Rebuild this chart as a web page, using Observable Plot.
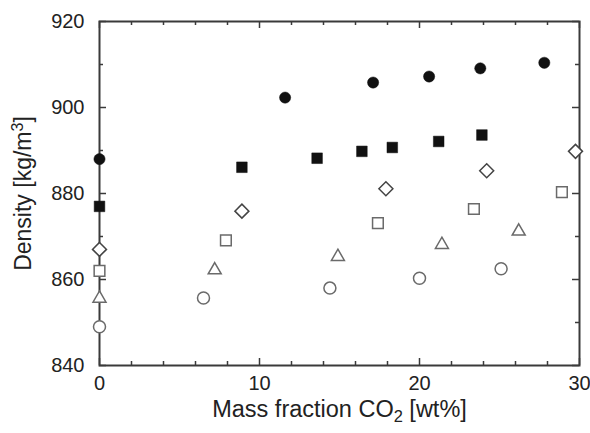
<!DOCTYPE html>
<html><head><meta charset="utf-8">
<script src="https://cdn.jsdelivr.net/npm/d3@7"></script>
<script src="https://cdn.jsdelivr.net/npm/@observablehq/plot@0.6"></script>
<style>body{margin:0;background:#fff}</style>
</head><body><div id="chart"></div>
<script>
// Data
const xFilledCircle = [0, 11.6, 17.1, 20.6, 23.8, 27.8];
const yFilledCircle = [888, 902.3, 905.8, 907.2, 909.1, 910.4];
const xFilledSquare = [0, 8.9, 13.6, 16.4, 18.3, 21.2, 23.9];
const yFilledSquare = [877, 886.1, 888.2, 889.8, 890.7, 892.1, 893.6];
const xOpenDiamond = [0, 8.9, 17.9, 24.2, 29.75];
const yOpenDiamond = [867, 875.9, 881.1, 885.3, 889.8];
const xOpenSquare = [0, 7.9, 17.4, 23.4, 28.9];
const yOpenSquare = [862, 869.1, 873.1, 876.4, 880.3];
const xOpenTriangle = [0, 7.2, 14.9, 21.4, 26.2];
const yOpenTriangle = [855.6, 862.2, 865.3, 868.1, 871.2];
const xOpenCircle = [0, 6.5, 14.4, 20.0, 25.1];
const yOpenCircle = [849, 855.7, 858, 860.3, 862.5];

const xTickLabels = [0, 10, 20, 30];
const yTickLabels = [840, 860, 880, 900, 920];
const xMinorTicks = [2, 4, 6, 8, 12, 14, 16, 18, 22, 24, 26, 28];
const yMinorTicks = [850, 870, 890, 910];
// axis titles: [before, script part, after]
const xLabelParts = ["Mass fraction CO", "2", " [wt%]"];
const yLabelParts = ["Density [kg/m", "3", "]"];
const xLabel = xLabelParts.join("");
const yLabel = yLabelParts.join("");

const pts = (xs, ys) => xs.map((x, i) => ({x, y: ys[i]}));

const W = 590, H = 433, mt = 21, mb = 68, ml = 99, mr = 11;
const ph = H - mt - mb, pw = W - ml - mr;
const majorLen = 7, minorLen = 4;
const frameColor = "#3a3a3a";
const openColor = "#6a6a6a";

const chart = Plot.plot({
  width: W, height: H,
  marginTop: mt, marginBottom: mb, marginLeft: ml, marginRight: mr,
  style: {fontFamily: "'Liberation Sans', Arial, sans-serif", fontSize: "20px", color: "#222", background: "#fff"},
  x: {domain: [0, 30]},
  y: {domain: [840, 920]},
  marks: [
    Plot.axisX(xTickLabels, {tickSize: 0, tickPadding: 3, dy: 7, label: null, fontSize: 20}),
    Plot.axisY(yTickLabels, {tickSize: 0, tickPadding: 3, dx: -12, label: null, fontSize: 20}),
    // inward ticks: bottom & top
    Plot.tickX(xTickLabels, {x: d => d, insetTop: ph - majorLen, stroke: frameColor, strokeWidth: 1.5}),
    Plot.tickX(xMinorTicks, {x: d => d, insetTop: ph - minorLen, stroke: frameColor, strokeWidth: 1.5}),
    Plot.tickX(xTickLabels, {x: d => d, insetBottom: ph - majorLen, stroke: frameColor, strokeWidth: 1.5}),
    Plot.tickX(xMinorTicks, {x: d => d, insetBottom: ph - minorLen, stroke: frameColor, strokeWidth: 1.5}),
    // inward ticks: left & right
    Plot.tickY(yTickLabels, {y: d => d, insetRight: pw - majorLen, stroke: frameColor, strokeWidth: 1.5}),
    Plot.tickY(yMinorTicks, {y: d => d, insetRight: pw - minorLen, stroke: frameColor, strokeWidth: 1.5}),
    Plot.tickY(yTickLabels, {y: d => d, insetLeft: pw - majorLen, stroke: frameColor, strokeWidth: 1.5}),
    Plot.tickY(yMinorTicks, {y: d => d, insetLeft: pw - minorLen, stroke: frameColor, strokeWidth: 1.5}),
    Plot.frame({stroke: frameColor, strokeWidth: 2}),
    // series
    Plot.dot(pts(xOpenCircle, yOpenCircle), {x: "x", y: "y", symbol: "circle", r: 6, fill: "#fff", stroke: openColor, strokeWidth: 1.5}),
    Plot.dot(pts(xOpenTriangle, yOpenTriangle), {x: "x", y: "y", symbol: "triangle2", r: 6.2, fill: "#fff", stroke: openColor, strokeWidth: 1.5}),
    Plot.dot(pts(xOpenSquare, yOpenSquare), {x: "x", y: "y", symbol: "square2", r: 6.8, fill: "#fff", stroke: openColor, strokeWidth: 1.5}),
    Plot.dot(pts(xOpenDiamond, yOpenDiamond), {x: "x", y: "y", symbol: "diamond2", r: 6.3, fill: "#fff", stroke: "#444", strokeWidth: 1.5}),
    Plot.dot(pts(xFilledSquare, yFilledSquare), {x: "x", y: "y", symbol: "square", r: 6, fill: "#111", stroke: "#111", strokeWidth: 0.5}),
    Plot.dot(pts(xFilledCircle, yFilledCircle), {x: "x", y: "y", symbol: "circle", r: 5.6, fill: "#111", stroke: "#111", strokeWidth: 0.5}),
    // axis titles
    Plot.text([xLabel], {text: d => d, frameAnchor: "bottom", dy: 44, lineAnchor: "middle", textAnchor: "middle", fontSize: 23.5, fill: "#222"}),
    Plot.text([yLabel], {text: d => d, frameAnchor: "left", dx: -76, rotate: -90, lineAnchor: "middle", textAnchor: "middle", fontSize: 23, fill: "#222"})
  ]
});

// Render sub/superscripts in the axis titles as real text tspans
function scriptify(label, parts, shift) {
  d3.select(chart).selectAll("text").filter(function() { return this.textContent === label; })
    .each(function() {
      const t = d3.select(this);
      t.text(null);
      t.append("tspan").text(parts[0]);
      t.append("tspan").attr("font-size", "70%").attr("dy", shift).text(parts[1]);
      t.append("tspan").attr("dy", -shift).text(parts[2]);
    });
}
scriptify(xLabel, xLabelParts, 5);
scriptify(yLabel, yLabelParts, -8);
document.getElementById("chart").appendChild(chart);
</script>
</body></html>
